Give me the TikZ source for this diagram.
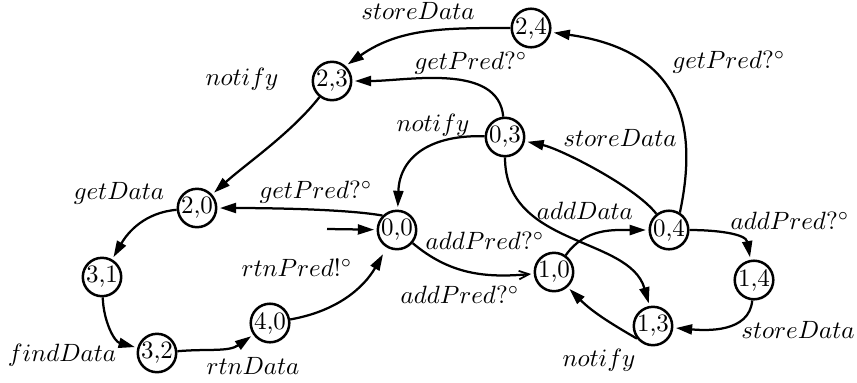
\documentclass[tikz,border=0pt]{standalone}
\usetikzlibrary{arrows.meta}
\begin{document}
\begin{tikzpicture}[x=0.4pt, y=0.4pt,
  st/.style={circle, draw, line width=1pt, minimum size=15.2pt, inner sep=0pt},
  tr/.style={line width=0.9pt, -{Triangle[length=6.5pt,width=4pt]}, shorten >=1pt},
  op/.style={line width=0.9pt, -{Straight Barb[length=4pt,width=3.4pt,line width=0.7pt]}, shorten >=1pt},
  lbl/.style={inner sep=0pt, text height=6.9pt, text depth=1.9pt}]
\useasboundingbox (0,0) rectangle (857,382);
% states
\node[st] (n24) at (531,354) {2,4};
\node[st] (n23) at (332,301) {2,3};
\node[st] (n03) at (505,245) {0,3};
\node[st] (n20) at (197,174) {2,0};
\node[st] (n00) at (397,152) {0,0};
\node[st] (n04) at (669,152) {0,4};
\node[st] (n31) at (102,105) {3,1};
\node[st] (n10) at (554,110) {1,0};
\node[st] (n14) at (754,102) {1,4};
\node[st] (n40) at (270,59) {4,0};
\node[st] (n32) at (157,29) {3,2};
\node[st] (n13) at (653,56) {1,3};
\coordinate (init) at (327,153);
% transitions
\draw[tr] (n24.west) to[out=180, in=35] (n23.48);
\draw[tr] (n03) to[out=95, in=0, looseness=0.9] (n23);
\draw[tr] (n23) to[out=-128, in=42, looseness=0.8] (n20);
\draw[tr] (n03) to[out=178, in=88, looseness=1.2] (n00);
\draw[tr] (n00.135) .. controls +(170:40) and +(0:40) .. (n20.east);
\draw[tr] (init) -- (n00);
\draw[tr] (n20) to[out=185, in=60] (n31);
\draw[tr] (n31) to[out=-88, in=165] (n32);
\draw[tr] (n32) to[out=5, in=215] (n40);
\draw[tr, shorten >=3pt] (n40) to[out=10, in=240] (n00);
\draw[op] (n00) to[out=-40, in=185] (n10);
\draw[tr] (n10) to[out=55, in=180] (n04);
\draw[tr] (n04) to[out=128, in=-12, looseness=0.6] (n03);
\draw[tr] (n04.58) to[out=78, in=-8, looseness=1.3] (n24.-12);
\draw[tr] (n03.south) .. controls +(0,-90) and +(-20,70) .. (n13.100);
\draw[tr] (n13.218) to[out=150, in=-45] (n10.-48);
\draw[tr] (n14) to[out=-95, in=-5] (n13);
\draw[tr] (n04) to[out=0, in=100] (n14);
% labels
\node[lbl] (l1) at (418,369) {$storeData$};
\node[lbl] (l2) at (471,319) {$getPred?^\circ$};
\node[lbl] (l3) at (242,303) {$notify$};
\node[lbl] (l4) at (433,257) {$notify$};
\node[lbl] (l5) at (316,190) {$getPred?^\circ$};
\node[lbl] (l6) at (119,189) {$getData$};
\node[lbl] (l7) at (62,27) {$findData$};
\node[lbl] (l8) at (253,14) {$rtnData$};
\node[lbl] (l9) at (297,112) {$rtnPred!^\circ$};
\node[lbl] (l10) at (460,85) {$addPred?^\circ$};
\node[lbl] (l11) at (485,139) {$addPred?^\circ$};
\node[lbl] (l12) at (585,169) {$addData$};
\node[lbl] (l13) at (620,242) {$storeData$};
\node[lbl] (l14) at (729,320) {$getPred?^\circ$};
\node[lbl] (l15) at (790,159) {$addPred?^\circ$};
\node[lbl] (l16) at (798,50) {$storeData$};
\node[lbl] (l17) at (599,22) {$notify$};
\end{tikzpicture}
\end{document}
